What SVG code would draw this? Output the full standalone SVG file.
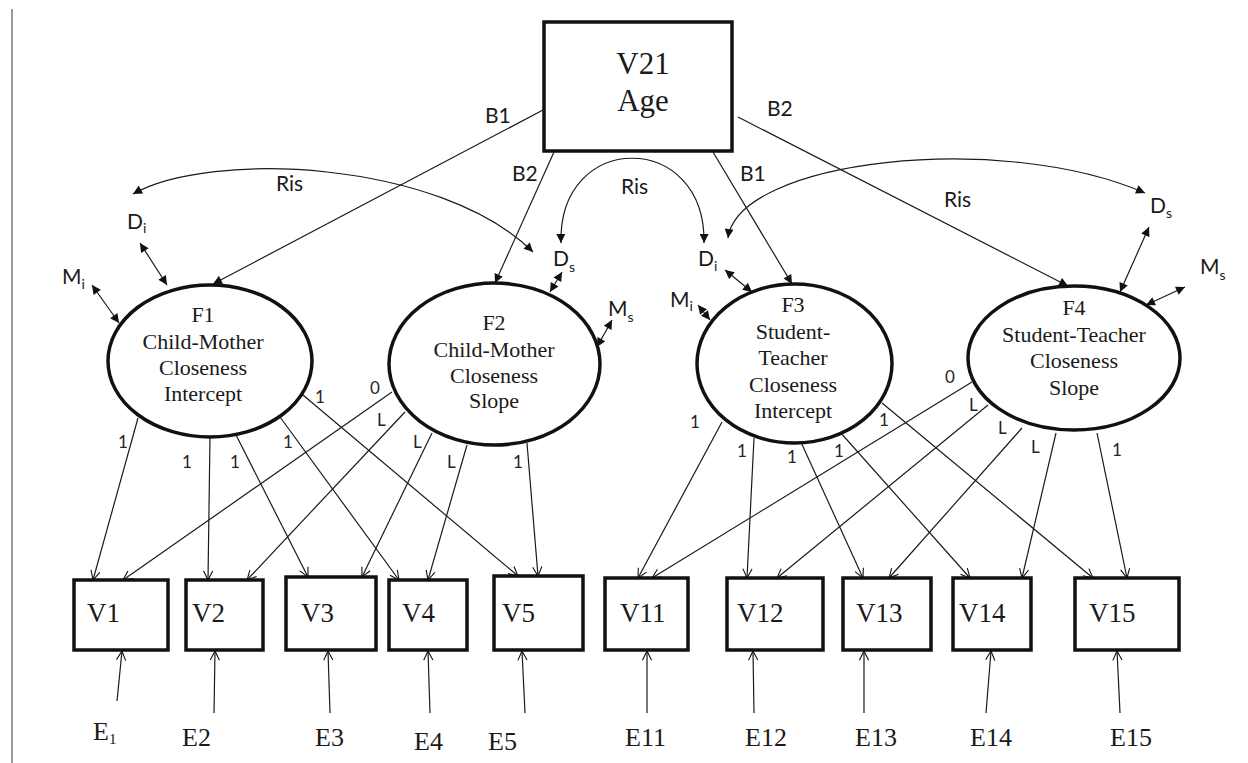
<svg xmlns="http://www.w3.org/2000/svg" width="1248" height="763" viewBox="0 0 1248 763">
  <defs>
    <style>
      .box{fill:#fff;stroke:#111;stroke-width:3.5}
      .lat{fill:#fff;stroke:#111;stroke-width:3.5}
      .ln{fill:none;stroke:#1a1a1a;stroke-width:1.2}
      .reg{marker-end:url(#tri)}
      .load{marker-end:url(#open)}
      .dbl{marker-start:url(#tri);marker-end:url(#tri)}
      .serif{font-family:"Liberation Serif","Times New Roman",serif;fill:#1a1a1a}
      .sans{font-family:Lato,"Liberation Sans",Arial,sans-serif;fill:#1a1a1a}
      .lname{font-size:22px;text-anchor:middle}
      .obs{font-size:27px}
      .err{font-size:26px}
      .coef{font-size:21px}
      .num{font-size:17px;fill:#2b2222}
      .var{font-size:21px}
      .sub{font-size:14px}
    </style>
    <marker id="tri" viewBox="0 0 10 10" refX="10" refY="5" markerWidth="10" markerHeight="9" markerUnits="userSpaceOnUse" orient="auto-start-reverse">
      <path d="M0,0 L10,5 L0,10 z" fill="#111"/>
    </marker>
    <marker id="open" viewBox="0 0 12 12" refX="11" refY="6" markerWidth="11" markerHeight="11" markerUnits="userSpaceOnUse" orient="auto">
      <path d="M1,1 L11,6 L1,11" fill="none" stroke="#111" stroke-width="1.2"/>
    </marker>
  </defs>

  <rect width="1248" height="763" fill="#fff"/>
  <!-- page margin rule -->
  <line x1="12" y1="9" x2="12" y2="763" stroke="#777" stroke-width="1.5"/>

  <!-- connectors -->
  <g id="connectors">
    <!-- age regressions -->
    <line class="ln reg" x1="543" y1="110" x2="213" y2="284"/>
    <line class="ln reg" x1="554" y1="152" x2="495" y2="283"/>
    <line class="ln reg" x1="713" y1="152" x2="792" y2="284"/>
    <line class="ln reg" x1="738" y1="117" x2="1068" y2="286"/>

    <!-- disturbance covariances -->
    <path class="ln dbl" d="M133,194 C210,150 440,160 533,252"/>
    <path class="ln dbl" d="M561,243 C558,130 706,130 704,243"/>
    <path class="ln dbl" d="M728,238 C738,160 1000,130 1145,193"/>

    <!-- disturbances and measurement terms -->
    <line class="ln dbl" x1="140" y1="243" x2="167" y2="285"/>
    <line class="ln dbl" x1="92" y1="285" x2="119" y2="323"/>
    <line class="ln dbl" x1="562" y1="272" x2="550" y2="292"/>
    <line class="ln dbl" x1="612" y1="320" x2="597" y2="347"/>
    <line class="ln dbl" x1="725" y1="270" x2="752" y2="292"/>
    <line class="ln dbl" x1="698" y1="305" x2="710" y2="320"/>
    <line class="ln dbl" x1="1149" y1="227" x2="1120" y2="292"/>
    <line class="ln dbl" x1="1185" y1="287" x2="1146" y2="305"/>

    <!-- F1 loadings -->
    <line class="ln load" x1="138" y1="418" x2="93" y2="580"/>
    <line class="ln load" x1="210" y1="437" x2="208" y2="580"/>
    <line class="ln load" x1="235" y1="433" x2="308" y2="577"/>
    <line class="ln load" x1="280" y1="417" x2="399" y2="580"/>
    <line class="ln load" x1="297" y1="390" x2="518" y2="576"/>
    <!-- F2 loadings -->
    <line class="ln load" x1="392" y1="392" x2="123" y2="580"/>
    <line class="ln load" x1="405" y1="412" x2="247" y2="580"/>
    <line class="ln load" x1="432" y1="433" x2="362" y2="577"/>
    <line class="ln load" x1="467" y1="445" x2="428" y2="580"/>
    <line class="ln load" x1="527" y1="443" x2="538" y2="576"/>
    <!-- F3 loadings -->
    <line class="ln load" x1="722" y1="422" x2="638" y2="578"/>
    <line class="ln load" x1="754" y1="438" x2="747" y2="578"/>
    <line class="ln load" x1="800" y1="440" x2="863" y2="578"/>
    <line class="ln load" x1="840" y1="432" x2="970" y2="578"/>
    <line class="ln load" x1="882" y1="403" x2="1093" y2="578"/>
    <!-- F4 loadings -->
    <line class="ln load" x1="972" y1="382" x2="652" y2="578"/>
    <line class="ln load" x1="988" y1="405" x2="777" y2="578"/>
    <line class="ln load" x1="1022" y1="428" x2="889" y2="578"/>
    <line class="ln load" x1="1056" y1="433" x2="1022" y2="578"/>
    <line class="ln load" x1="1097" y1="433" x2="1127" y2="578"/>

    <!-- residual paths -->
    <line class="ln load" x1="117" y1="701" x2="122" y2="651"/>
    <line class="ln load" x1="214" y1="713" x2="215" y2="651"/>
    <line class="ln load" x1="330" y1="713" x2="328" y2="651"/>
    <line class="ln load" x1="430" y1="713" x2="428" y2="651"/>
    <line class="ln load" x1="525" y1="713" x2="522" y2="651"/>
    <line class="ln load" x1="647" y1="713" x2="647" y2="651"/>
    <line class="ln load" x1="754" y1="713" x2="753" y2="651"/>
    <line class="ln load" x1="864" y1="713" x2="864" y2="651"/>
    <line class="ln load" x1="986" y1="713" x2="991" y2="651"/>
    <line class="ln load" x1="1120" y1="713" x2="1117" y2="651"/>

    <!-- path labels -->
    <text class="sans coef" x="485" y="123">B1</text>
    <text class="sans coef" x="512" y="181">B2</text>
    <text class="sans coef" x="740" y="181">B1</text>
    <text class="sans coef" x="767" y="116">B2</text>
    <text class="sans coef" x="276" y="191">Ris</text>
    <text class="sans coef" x="621" y="194">Ris</text>
    <text class="sans coef" x="944" y="207">Ris</text>

    <text class="sans num" x="118" y="448">1</text>
    <text class="sans num" x="182" y="468">1</text>
    <text class="sans num" x="230" y="468">1</text>
    <text class="sans num" x="283" y="448">1</text>
    <text class="sans num" x="315" y="403">1</text>

    <text class="sans num" x="370" y="394">0</text>
    <text class="sans num" x="377" y="426">L</text>
    <text class="sans num" x="413" y="448">L</text>
    <text class="sans num" x="447" y="468">L</text>
    <text class="sans num" x="513" y="468">1</text>

    <text class="sans num" x="690" y="428">1</text>
    <text class="sans num" x="737" y="457">1</text>
    <text class="sans num" x="787" y="463">1</text>
    <text class="sans num" x="834" y="457">1</text>
    <text class="sans num" x="879" y="426">1</text>

    <text class="sans num" x="945" y="383">0</text>
    <text class="sans num" x="969" y="411">L</text>
    <text class="sans num" x="998" y="434">L</text>
    <text class="sans num" x="1031" y="453">L</text>
    <text class="sans num" x="1112" y="456">1</text>
  </g>

  <!-- age -->
  <g id="V21">
    <rect class="box" x="544" y="22" width="188" height="129"/>
    <text class="serif" x="643" y="74" font-size="31" text-anchor="middle">V21</text>
    <text class="serif" x="643" y="111" font-size="31" text-anchor="middle">Age</text>
  </g>

  <!-- latent growth factors -->
  <g id="F1">
    <ellipse class="lat" cx="210" cy="361" rx="102" ry="76"/>
    <text class="serif lname" x="203" y="322">F1</text>
    <text class="serif lname" x="203" y="349">Child-Mother</text>
    <text class="serif lname" x="203" y="375">Closeness</text>
    <text class="serif lname" x="203" y="401">Intercept</text>
  </g>
  <g id="F2">
    <ellipse class="lat" cx="494.5" cy="364" rx="105.5" ry="81"/>
    <text class="serif lname" x="494" y="330">F2</text>
    <text class="serif lname" x="494" y="357">Child-Mother</text>
    <text class="serif lname" x="494" y="383">Closeness</text>
    <text class="serif lname" x="494" y="408">Slope</text>
  </g>
  <g id="F3">
    <ellipse class="lat" cx="794.5" cy="363.5" rx="97.5" ry="79.5"/>
    <text class="serif lname" x="793" y="312">F3</text>
    <text class="serif lname" x="793" y="339">Student-</text>
    <text class="serif lname" x="793" y="365">Teacher</text>
    <text class="serif lname" x="793" y="392">Closeness</text>
    <text class="serif lname" x="793" y="418">Intercept</text>
  </g>
  <g id="F4">
    <ellipse class="lat" cx="1074" cy="358" rx="106" ry="72"/>
    <text class="serif lname" x="1074" y="315">F4</text>
    <text class="serif lname" x="1074" y="342">Student-Teacher</text>
    <text class="serif lname" x="1074" y="368">Closeness</text>
    <text class="serif lname" x="1074" y="395">Slope</text>
  </g>

  <!-- disturbance / method terms -->
  <g id="Di-1"><text class="sans var" x="127" y="229">D<tspan class="sub" dy="4">i</tspan></text></g>
  <g id="Mi-1"><text class="sans var" x="62" y="284">M<tspan class="sub" dy="5">i</tspan></text></g>
  <g id="Ds-2"><text class="sans var" x="553" y="266">D<tspan class="sub" dy="6">s</tspan></text></g>
  <g id="Ms-2"><text class="sans var" x="608" y="316">M<tspan class="sub" dy="6">s</tspan></text></g>
  <g id="Di-3"><text class="sans var" x="698" y="266">D<tspan class="sub" dy="5">i</tspan></text></g>
  <g id="Mi-3"><text class="sans var" x="670" y="307">M<tspan class="sub" dy="4">i</tspan></text></g>
  <g id="Ds-4"><text class="sans var" x="1150" y="213">D<tspan class="sub" dy="5">s</tspan></text></g>
  <g id="Ms-4"><text class="sans var" x="1200" y="274">M<tspan class="sub" dy="6">s</tspan></text></g>

  <!-- observed indicators -->
  <g id="V1"><rect class="box" x="74" y="580" width="94" height="70"/><text class="serif obs" x="87" y="622">V1</text></g>
  <g id="V2"><rect class="box" x="186" y="580" width="77" height="70"/><text class="serif obs" x="192" y="622">V2</text></g>
  <g id="V3"><rect class="box" x="286" y="577" width="90" height="73"/><text class="serif obs" x="301" y="622">V3</text></g>
  <g id="V4"><rect class="box" x="389" y="580" width="78" height="70"/><text class="serif obs" x="402" y="622">V4</text></g>
  <g id="V5"><rect class="box" x="494" y="576" width="89" height="74"/><text class="serif obs" x="502" y="622">V5</text></g>
  <g id="V11"><rect class="box" x="605" y="578" width="83" height="72"/><text class="serif obs" x="620" y="622">V11</text></g>
  <g id="V12"><rect class="box" x="727" y="578" width="96" height="72"/><text class="serif obs" x="737" y="622">V12</text></g>
  <g id="V13"><rect class="box" x="843" y="578" width="88" height="72"/><text class="serif obs" x="856" y="622">V13</text></g>
  <g id="V14"><rect class="box" x="953" y="578" width="78" height="72"/><text class="serif obs" x="959" y="622">V14</text></g>
  <g id="V15"><rect class="box" x="1075" y="578" width="104" height="72"/><text class="serif obs" x="1089" y="622">V15</text></g>

  <!-- residuals -->
  <g id="E1"><text class="serif err" x="93" y="740">E<tspan font-size="15" dy="4">1</tspan></text></g>
  <g id="E2"><text class="serif err" x="182" y="746">E2</text></g>
  <g id="E3"><text class="serif err" x="315" y="746">E3</text></g>
  <g id="E4"><text class="serif err" x="414" y="750">E4</text></g>
  <g id="E5"><text class="serif err" x="488" y="750">E5</text></g>
  <g id="E11"><text class="serif err" x="625" y="746">E11</text></g>
  <g id="E12"><text class="serif err" x="745" y="746">E12</text></g>
  <g id="E13"><text class="serif err" x="855" y="746">E13</text></g>
  <g id="E14"><text class="serif err" x="970" y="746">E14</text></g>
  <g id="E15"><text class="serif err" x="1110" y="746">E15</text></g>
</svg>
